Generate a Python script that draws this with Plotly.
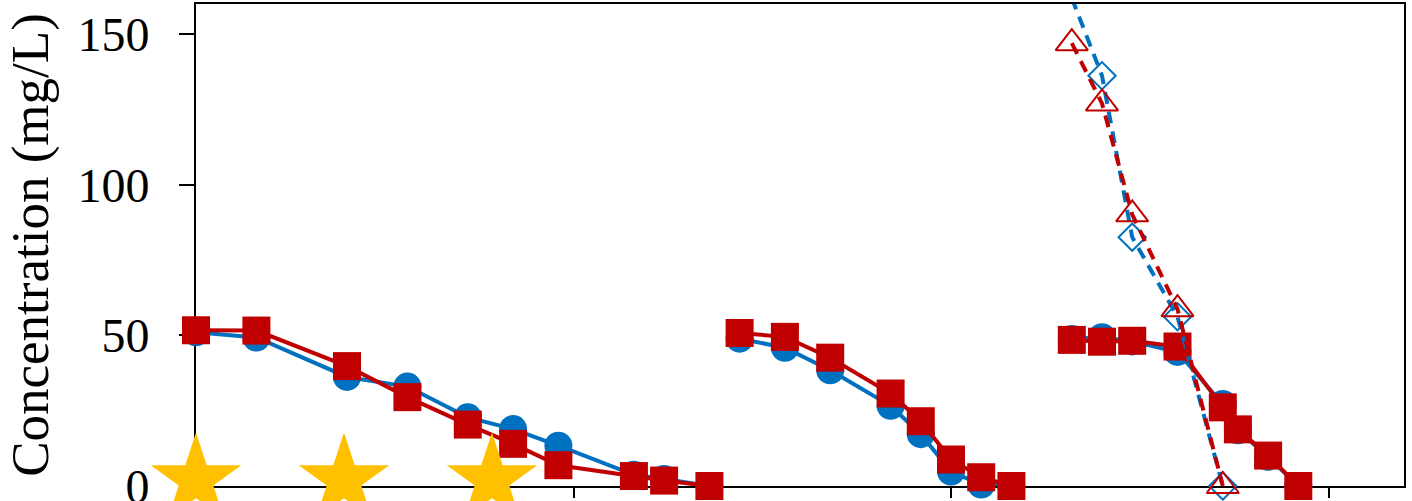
import plotly.graph_objects as go

# Sampling days and measured concentrations (mg/L) for three consecutive runs
cycle1_day = [0, 4, 10, 14, 18, 21, 24, 29, 31, 34]
cycle1_blue = [51.0, 49.3, 36.2, 33.0, 22.8, 18.9, 13.4, 3.7, 2.3, 0]
cycle1_red = [51.7, 51.6, 39.8, 29.5, 20.4, 14.0, 6.9, 3.3, 1.8, 0]

cycle2_day = [36, 39, 42, 46, 48, 50, 52, 54]
cycle2_blue = [48.9, 45.9, 38.4, 26.6, 17.2, 4.8, 0.5, 0]
cycle2_red = [50.8, 49.5, 42.6, 30.7, 21.5, 8.8, 2.9, 0]

cycle3_day = [58, 60, 62, 65, 68, 69, 71, 73]
cycle3_blue = [48.8, 49.4, 48.0, 44.5, 27.2, 18.5, 9.7, 0]
cycle3_red = [48.5, 47.9, 48.2, 46.3, 26.1, 18.8, 10.1, 0]

# Second measurement set of the third run (dashed)
dashed_day = [58, 60, 62, 65, 68]
dashed_blue = [162, 136.2, 82.6, 56.2, 0]
dashed_red = [147, 127, 90.2, 58.7, 0]

# Event markers along the baseline
event_day = [0, 9.8, 19.6]
event_level = [0, 0, 0]

y_ticks = [0, 50, 100, 150]
x_ticks = [0, 25, 50, 75]

BLUE = "#0070C0"
RED = "#C00000"
GOLD = "#FFC000"
FONT = "Liberation Serif, Times New Roman, serif"


def joined(*parts):
    out = []
    for i, p in enumerate(parts):
        if i:
            out.append(None)
        out.extend(p)
    return out


solid_x = joined(cycle1_day, cycle2_day, cycle3_day)
solid_blue = joined(cycle1_blue, cycle2_blue, cycle3_blue)
solid_red = joined(cycle1_red, cycle2_red, cycle3_red)

fig = go.Figure()

fig.add_trace(go.Scatter(
    x=solid_x, y=solid_blue, mode="lines+markers", name="Series A",
    line=dict(color=BLUE, width=4), connectgaps=False,
    marker=dict(symbol="circle", size=28, color=BLUE, line=dict(width=0)),
    cliponaxis=False,
))
fig.add_trace(go.Scatter(
    x=solid_x, y=solid_red, mode="lines+markers", name="Series B",
    line=dict(color=RED, width=4), connectgaps=False,
    marker=dict(symbol="square", size=28, color=RED, line=dict(width=0)),
    cliponaxis=False,
))
fig.add_trace(go.Scatter(
    x=dashed_day, y=dashed_blue, mode="lines+markers", name="Series A (2)",
    line=dict(color=BLUE, width=4, dash="12px,8px"),
    marker=dict(symbol="diamond-open", size=21, color=BLUE, line=dict(width=2, color=BLUE)),
    cliponaxis=False,
))
fig.add_trace(go.Scatter(
    x=dashed_day, y=dashed_red, mode="lines+markers", name="Series B (2)",
    line=dict(color=RED, width=4, dash="12px,8px"),
    marker=dict(symbol="triangle-up-open", size=28, color=RED, line=dict(width=2, color=RED)),
    cliponaxis=False,
))
fig.add_trace(go.Scatter(
    x=event_day, y=event_level, mode="markers", name="Events", yaxis="y2",
    marker=dict(symbol="star", size=68, color=GOLD, line=dict(width=0)),
    cliponaxis=False,
))

fig.update_layout(
    width=1412, height=501,
    margin=dict(l=196, r=8, t=4, b=15, autoexpand=False),
    paper_bgcolor="white", plot_bgcolor="white",
    showlegend=False,
    font=dict(family=FONT, color="black"),
    xaxis=dict(
        range=[0, 80], tickvals=x_ticks, showticklabels=False,
        ticks="outside", ticklen=10, tickwidth=2, tickcolor="black",
        showline=True, linecolor="black", linewidth=2, mirror=True,
        showgrid=False, zeroline=False, layer="below traces", automargin=False,
    ),
    yaxis=dict(
        range=[0, 160], tickvals=y_ticks,
        ticks="outside", ticklen=15, tickwidth=2, tickcolor="black",
        tickfont=dict(family=FONT, size=48, color="black"),
        ticklabelstandoff=20, ticklabeloverflow="allow",
        showline=True, linecolor="black", linewidth=2, mirror=True,
        showgrid=False, zeroline=False, layer="below traces", automargin=False,
        title=dict(text="Concentration (mg/L)", font=dict(family=FONT, size=53, color="black"),
                   standoff=12),
    ),
    yaxis2=dict(range=[-2, 158], overlaying="y", visible=False),
)

fig.write_html("out.html")
